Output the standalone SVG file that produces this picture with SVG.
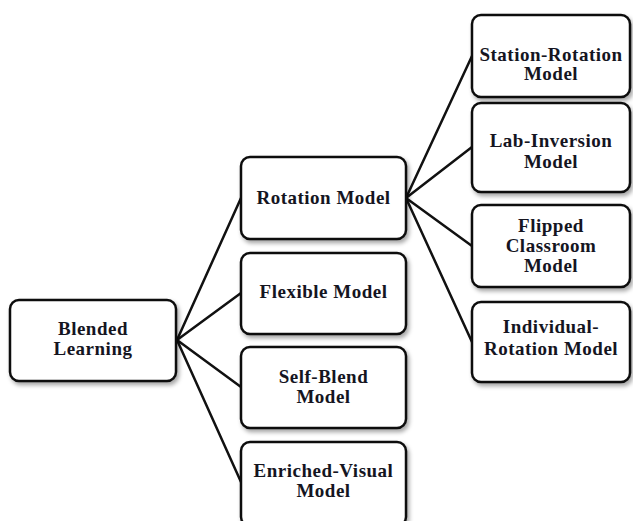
<svg xmlns="http://www.w3.org/2000/svg" width="633" height="521" viewBox="0 0 633 521">
<defs>
<filter id="sh" x="-10%" y="-10%" width="125%" height="130%">
<feDropShadow dx="2" dy="3" stdDeviation="2" flood-color="#000" flood-opacity="0.35"/>
</filter>
</defs>
<style>
.box{fill:#fff;stroke:#111;stroke-width:2.5;filter:url(#sh)}
.t{font-family:"Liberation Serif","Times New Roman",serif;font-weight:bold;font-size:19px;letter-spacing:0.5px;fill:#15151f;text-anchor:middle}
.c{stroke:#111;stroke-width:2.5;fill:none;stroke-linecap:round}
</style>
<rect width="633" height="521" fill="#fff"/>
<g id="connectors">
<line class="c" x1="177" y1="340" x2="241" y2="198"/>
<line class="c" x1="177" y1="340" x2="241" y2="293"/>
<line class="c" x1="177" y1="340" x2="241" y2="387"/>
<line class="c" x1="177" y1="340" x2="241" y2="482"/>
<line class="c" x1="406" y1="198" x2="472" y2="56"/>
<line class="c" x1="406" y1="198" x2="472" y2="147"/>
<line class="c" x1="406" y1="198" x2="472" y2="246"/>
<line class="c" x1="406" y1="198" x2="472" y2="342"/>
</g>
<g id="blended">
<rect class="box" x="10" y="300" width="166" height="81" rx="9"/>
<text class="t" x="93" y="335">Blended</text>
<text class="t" x="93" y="355">Learning</text>
</g>
<g id="rotation">
<rect class="box" x="241" y="157" width="165" height="82" rx="9"/>
<text class="t" x="323.5" y="204">Rotation Model</text>
</g>
<g id="flexible">
<rect class="box" x="241" y="253" width="165" height="81" rx="9"/>
<text class="t" x="323.5" y="298">Flexible Model</text>
</g>
<g id="selfblend">
<rect class="box" x="241" y="347" width="165" height="81" rx="9"/>
<text class="t" x="323.5" y="383">Self-Blend</text>
<text class="t" x="323.5" y="403">Model</text>
</g>
<g id="enriched">
<rect class="box" x="241" y="442" width="165" height="84" rx="9"/>
<text class="t" x="323.5" y="477">Enriched-Visual</text>
<text class="t" x="323.5" y="497">Model</text>
</g>
<g id="station">
<rect class="box" x="472" y="15" width="158" height="82" rx="9"/>
<text class="t" x="551" y="61">Station-Rotation</text>
<text class="t" x="551" y="80">Model</text>
</g>
<g id="lab">
<rect class="box" x="472" y="103" width="158" height="89" rx="9"/>
<text class="t" x="551" y="147">Lab-Inversion</text>
<text class="t" x="551" y="168">Model</text>
</g>
<g id="flipped">
<rect class="box" x="472" y="205" width="158" height="82" rx="9"/>
<text class="t" x="551" y="232">Flipped</text>
<text class="t" x="551" y="252">Classroom</text>
<text class="t" x="551" y="272">Model</text>
</g>
<g id="individual">
<rect class="box" x="472" y="302" width="158" height="80" rx="9"/>
<text class="t" x="551" y="333">Individual-</text>
<text class="t" x="551" y="355">Rotation Model</text>
</g>
</svg>
